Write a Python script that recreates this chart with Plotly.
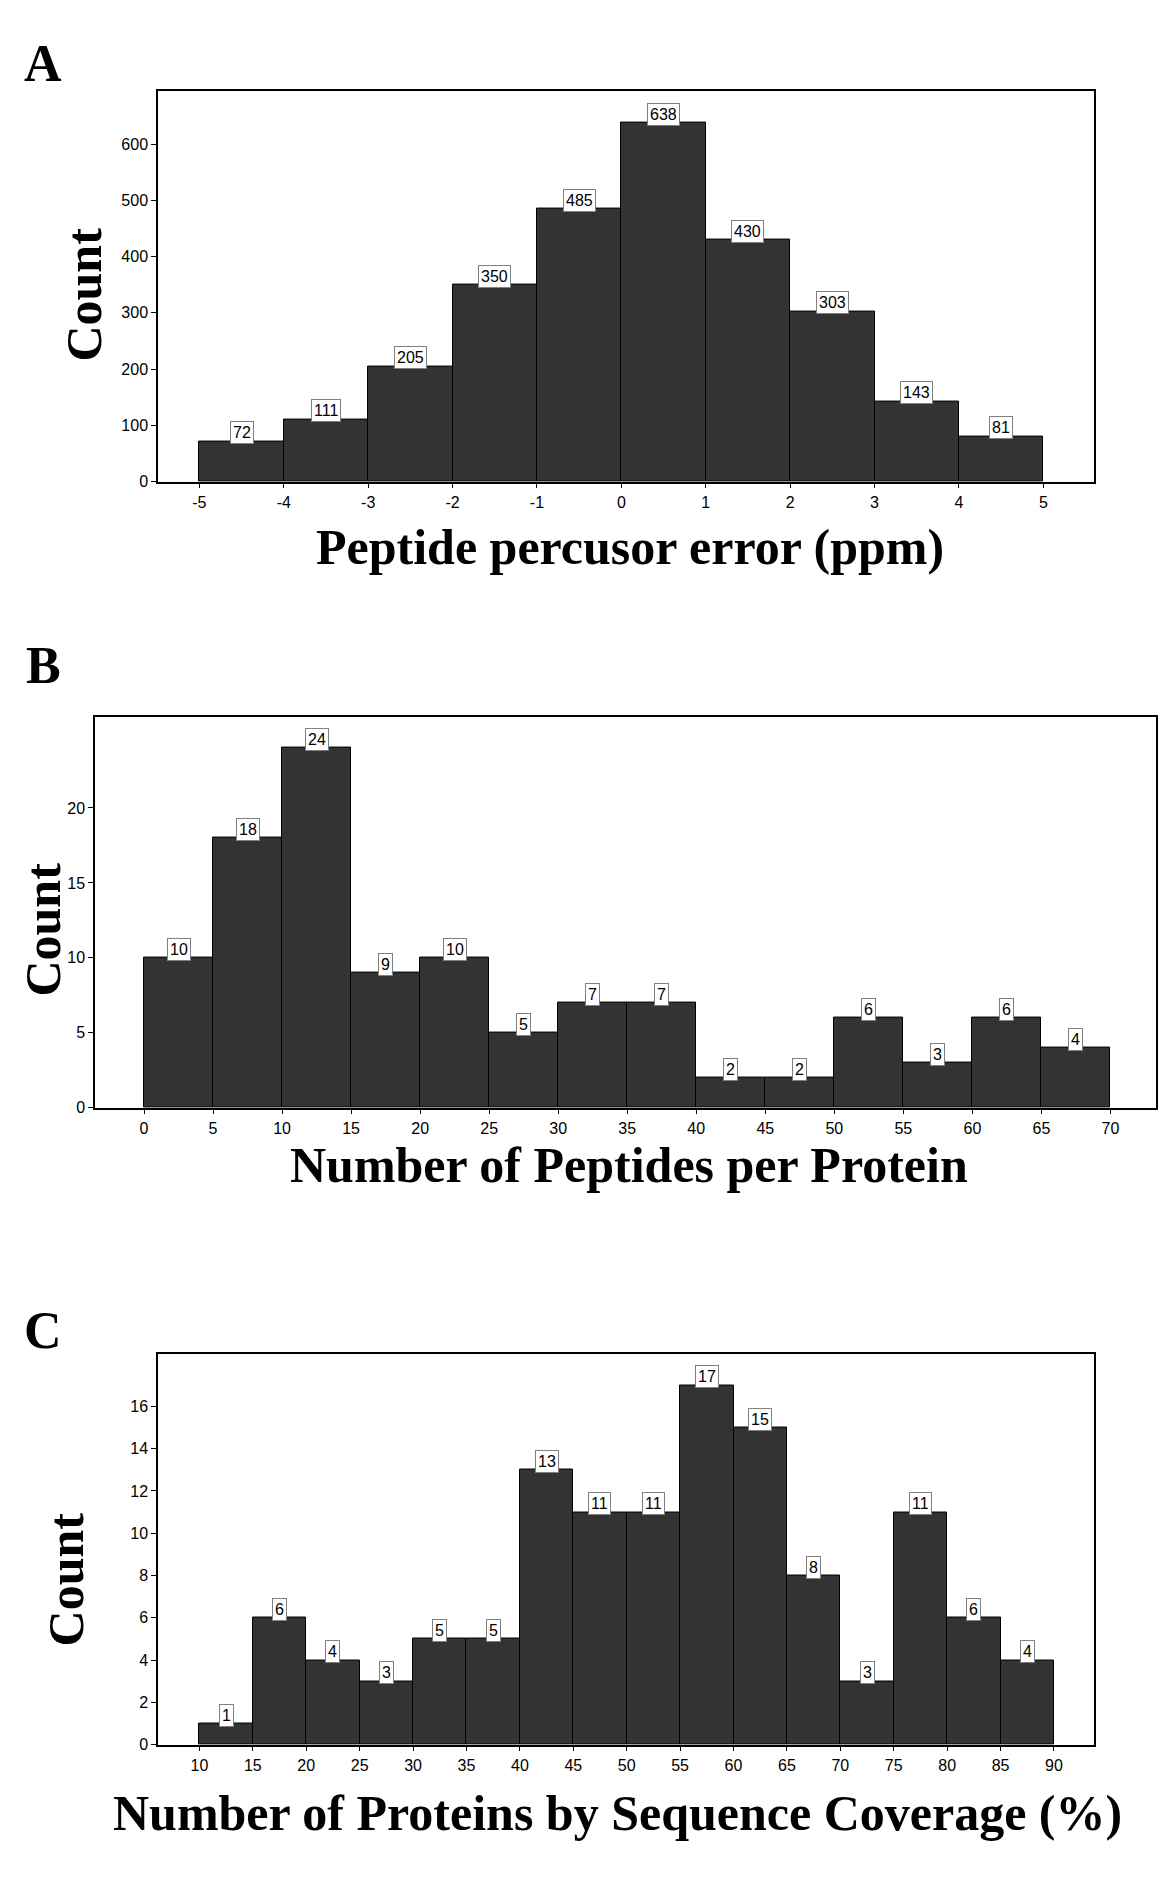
import plotly.graph_objects as go

# ---------------- data ----------------
# Panel A: peptide precursor error (ppm), bin edges and counts
a_edges = [-5, -4, -3, -2, -1, 0, 1, 2, 3, 4, 5]
a_counts = [72, 111, 205, 350, 485, 638, 430, 303, 143, 81]
a_xticks = [-5, -4, -3, -2, -1, 0, 1, 2, 3, 4, 5]
a_xticklabels = ["-5", "-4", "-3", "-2", "-1", "0", "1", "2", "3", "4", "5"]
a_yticks = [0, 100, 200, 300, 400, 500, 600]

# Panel B: number of peptides per protein
b_edges = [0, 5, 10, 15, 20, 25, 30, 35, 40, 45, 50, 55, 60, 65, 70]
b_counts = [10, 18, 24, 9, 10, 5, 7, 7, 2, 2, 6, 3, 6, 4]
b_xticks = [0, 5, 10, 15, 20, 25, 30, 35, 40, 45, 50, 55, 60, 65, 70]
b_xticklabels = [str(v) for v in b_xticks]
b_yticks = [0, 5, 10, 15, 20]

# Panel C: number of proteins by sequence coverage (%)
c_edges = [10, 15, 20, 25, 30, 35, 40, 45, 50, 55, 60, 65, 70, 75, 80, 85, 90]
c_counts = [1, 6, 4, 3, 5, 5, 13, 11, 11, 17, 15, 8, 3, 11, 6, 4]
c_xticks = [10, 15, 20, 25, 30, 35, 40, 45, 50, 55, 60, 65, 70, 75, 80, 85, 90]
c_xticklabels = [str(v) for v in c_xticks]
c_yticks = [0, 2, 4, 6, 8, 10, 12, 14, 16]

panel_letters = ["A", "B", "C"]
x_titles = ["Peptide percusor error (ppm)",
            "Number of Peptides per Protein",
            "Number of Proteins by Sequence Coverage (%)"]
y_title = "Count"

# ---------------- layout helpers ----------------
# page coordinates (px) -> paper coordinates (body margin removed below)
FW, FH = 1158, 1890
def px(p):
    return p / FW
def py(p):
    return 1 - p / FH

SERIF = "Liberation Serif, Times New Roman, serif"
SANS = "Liberation Sans, Arial, sans-serif"
BAR = "#333333"

fig = go.Figure()

panels = [
    dict(edges=a_edges, counts=a_counts, xt=a_xticks, xtl=a_xticklabels, yt=a_yticks,
         ax="x", ay="y",
         xdom=[px(158), px(1094)], ydom=[py(484), py(91)],
         xr=[-5.49, 5.60], yr=[0, 695]),
    dict(edges=b_edges, counts=b_counts, xt=b_xticks, xtl=b_xticklabels, yt=b_yticks,
         ax="x2", ay="y2",
         xdom=[px(95), px(1156)], ydom=[py(1113), py(720)],
         xr=[-3.55, 73.3], yr=[0, 26.1]),
    dict(edges=c_edges, counts=c_counts, xt=c_xticks, xtl=c_xticklabels, yt=c_yticks,
         ax="x3", ay="y3",
         xdom=[px(158), px(1094)], ydom=[py(1753), py(1360)],
         xr=[6.12, 93.75], yr=[0, 18.5]),
]

annotations = []
for i, p in enumerate(panels):
    edges, counts = p["edges"], p["counts"]
    centers = [(edges[k] + edges[k + 1]) / 2 for k in range(len(counts))]
    widths = [edges[k + 1] - edges[k] for k in range(len(counts))]
    fig.add_trace(go.Bar(
        x=centers, y=counts, width=widths,
        marker=dict(color=BAR, line=dict(color="black", width=1)),
        xaxis=p["ax"], yaxis=p["ay"], showlegend=False, hoverinfo="x+y",
    ))
    for cx, cnt in zip(centers, counts):
        annotations.append(dict(
            x=cx, y=cnt, xref=p["ax"], yref=p["ay"], text=str(cnt),
            showarrow=False, yanchor="bottom", xanchor="center", yshift=-3,
            bgcolor="white", bordercolor="#808080", borderwidth=1, borderpad=2,
            font=dict(family=SANS, size=16, color="black"),
        ))

axis_common = dict(showline=True, mirror=True, linecolor="black", linewidth=1.5,
                   ticks="outside", ticklen=5, tickcolor="black", tickwidth=1,
                   showgrid=False, zeroline=False,
                   tickfont=dict(family=SANS, size=16, color="black"))

layout_axes = {}
for i, p in enumerate(panels):
    sx = "xaxis" if i == 0 else f"xaxis{i+1}"
    sy = "yaxis" if i == 0 else f"yaxis{i+1}"
    layout_axes[sx] = dict(axis_common, domain=p["xdom"], range=p["xr"],
                           tickmode="array", tickvals=p["xt"], ticktext=p["xtl"],
                           anchor=p["ay"])
    layout_axes[sy] = dict(axis_common, domain=p["ydom"], range=p["yr"],
                           tickmode="array", tickvals=p["yt"], anchor=p["ax"])

# panel letters
letter_pos = [(22, 64), (24, 669), (22, 1337)]
for letter, (lx, ly) in zip(panel_letters, letter_pos):
    annotations.append(dict(x=px(lx), y=py(ly), xref="paper", yref="paper",
                            text=f"<b>{letter}</b>", showarrow=False,
                            xanchor="left", yanchor="middle",
                            font=dict(family=SERIF, size=52, color="black")))

# x-axis titles
xt_pos = [(630, 550), (629, 1171), (617, 1822)]
for t, (tx, ty) in zip(x_titles, xt_pos):
    annotations.append(dict(x=px(tx), y=py(ty), xref="paper", yref="paper",
                            text=f"<b>{t}</b>", showarrow=False,
                            xanchor="center", yanchor="middle",
                            font=dict(family=SERIF, size=50, color="black")))

# y-axis titles
yt_pos = [(84, 296), (43, 934), (66, 1587)]
for (tx, ty) in yt_pos:
    annotations.append(dict(x=px(tx), y=py(ty), xref="paper", yref="paper",
                            text=f"<b>{y_title}</b>", showarrow=False, textangle=-90,
                            xanchor="center", yanchor="middle",
                            font=dict(family=SERIF, size=50, color="black")))

fig.update_layout(
    width=FW, height=FH,
    margin=dict(l=0, r=0, t=0, b=0),
    paper_bgcolor="white", plot_bgcolor="white",
    bargap=0, annotations=annotations, **layout_axes,
)

fig.write_html(
    "out.html",
    config={"displayModeBar": False},
    post_script="document.body.style.margin='0';document.body.style.overflow='hidden';",
)
